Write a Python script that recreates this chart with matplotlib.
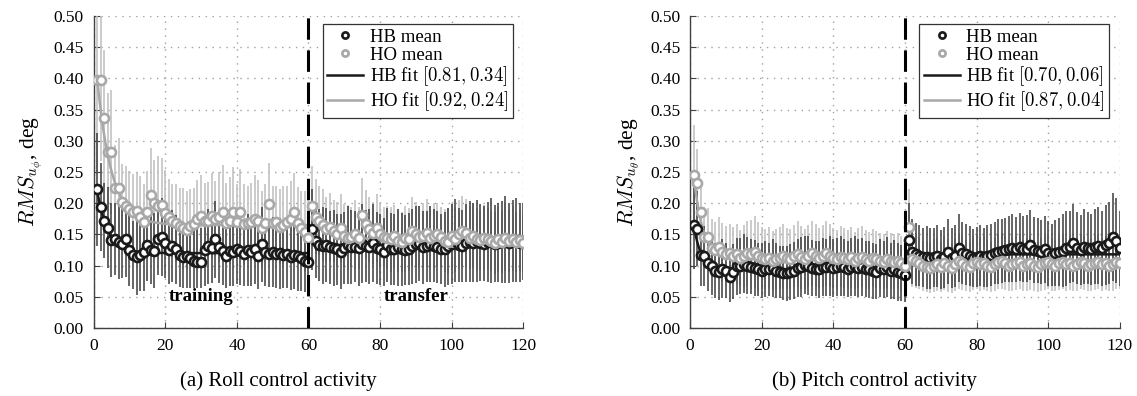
import numpy as np
import matplotlib
matplotlib.use("Agg")
import matplotlib.pyplot as plt
from matplotlib.lines import Line2D

plt.rcParams['font.family'] = ['Liberation Serif', 'DejaVu Serif']
plt.rcParams['mathtext.fontset'] = 'cm'

trials = np.arange(1, 121)

# ---- roll (a) ----
roll_hb_mean = [
    0.222, 0.194, 0.172, 0.161, 0.141, 0.143, 0.138, 0.135, 0.143, 0.125,
    0.117, 0.113, 0.117, 0.121, 0.133, 0.125, 0.124, 0.143, 0.146, 0.136,
    0.125, 0.131, 0.126, 0.117, 0.113, 0.115, 0.112, 0.108, 0.106, 0.105,
    0.125, 0.131, 0.128, 0.142, 0.130, 0.124, 0.115, 0.124, 0.122, 0.127,
    0.124, 0.119, 0.125, 0.122, 0.127, 0.115, 0.134, 0.122, 0.118, 0.122,
    0.118, 0.120, 0.117, 0.119, 0.113, 0.117, 0.115, 0.112, 0.108, 0.106,
    0.158, 0.140, 0.133, 0.132, 0.133, 0.129, 0.128, 0.126, 0.122, 0.128,
    0.133, 0.130, 0.130, 0.128, 0.135, 0.131, 0.130, 0.136, 0.128, 0.126,
    0.122, 0.133, 0.127, 0.126, 0.129, 0.126, 0.125, 0.127, 0.131, 0.134,
    0.136, 0.129, 0.131, 0.134, 0.132, 0.130, 0.127, 0.126, 0.131, 0.135,
    0.140, 0.133, 0.131, 0.136, 0.138, 0.137, 0.139, 0.137, 0.135, 0.138,
    0.140, 0.135, 0.137, 0.138, 0.142, 0.136, 0.139, 0.141, 0.137, 0.139]
roll_hb_err = [
    0.090, 0.070, 0.060, 0.065, 0.060, 0.058, 0.060, 0.055, 0.062, 0.058,
    0.055, 0.060, 0.057, 0.062, 0.058, 0.055, 0.060, 0.058, 0.062, 0.056,
    0.054, 0.058, 0.055, 0.052, 0.056, 0.054, 0.050, 0.053, 0.052, 0.055,
    0.058, 0.060, 0.056, 0.062, 0.058, 0.055, 0.052, 0.056, 0.054, 0.057,
    0.055, 0.052, 0.058, 0.054, 0.056, 0.052, 0.060, 0.055, 0.053, 0.056,
    0.054, 0.057, 0.053, 0.055, 0.052, 0.054, 0.056, 0.052, 0.050, 0.052,
    0.065, 0.060, 0.058, 0.062, 0.060, 0.058, 0.061, 0.057, 0.060, 0.058,
    0.062, 0.059, 0.057, 0.060, 0.063, 0.058, 0.060, 0.062, 0.058, 0.057,
    0.055, 0.060, 0.058, 0.057, 0.061, 0.059, 0.056, 0.058, 0.060, 0.062,
    0.060, 0.058, 0.057, 0.061, 0.059, 0.058, 0.056, 0.060, 0.062, 0.064,
    0.066, 0.060, 0.058, 0.062, 0.065, 0.063, 0.066, 0.062, 0.060, 0.064,
    0.068, 0.062, 0.064, 0.066, 0.070, 0.064, 0.066, 0.068, 0.064, 0.062]
roll_ho_mean = [
    0.397, 0.397, 0.336, 0.282, 0.282, 0.224, 0.224, 0.202, 0.195, 0.190,
    0.186, 0.188, 0.178, 0.170, 0.186, 0.213, 0.200, 0.195, 0.197, 0.185,
    0.178, 0.172, 0.168, 0.164, 0.160, 0.157, 0.163, 0.166, 0.175, 0.180,
    0.172, 0.172, 0.180, 0.175, 0.178, 0.186, 0.168, 0.172, 0.186, 0.170,
    0.186, 0.166, 0.168, 0.170, 0.175, 0.172, 0.160, 0.168, 0.199, 0.168,
    0.170, 0.162, 0.165, 0.170, 0.175, 0.186, 0.168, 0.160, 0.154, 0.145,
    0.195, 0.178, 0.172, 0.165, 0.158, 0.162, 0.155, 0.150, 0.160, 0.148,
    0.145, 0.146, 0.150, 0.144, 0.181, 0.166, 0.158, 0.152, 0.160, 0.150,
    0.146, 0.145, 0.142, 0.148, 0.140, 0.138, 0.144, 0.142, 0.155, 0.150,
    0.146, 0.148, 0.152, 0.145, 0.148, 0.150, 0.146, 0.140, 0.138, 0.147,
    0.142, 0.150, 0.155, 0.152, 0.145, 0.148, 0.142, 0.141, 0.145, 0.143,
    0.140, 0.136, 0.142, 0.138, 0.145, 0.140, 0.143, 0.138, 0.141, 0.137]
roll_ho_err = [
    0.150, 0.130, 0.110, 0.095, 0.100, 0.070, 0.080, 0.060, 0.065, 0.062,
    0.060, 0.062, 0.065, 0.060, 0.065, 0.075, 0.070, 0.080, 0.075, 0.068,
    0.060, 0.058, 0.062, 0.060, 0.065, 0.062, 0.060, 0.058, 0.062, 0.065,
    0.060, 0.062, 0.068, 0.060, 0.072, 0.075, 0.065, 0.070, 0.072, 0.060,
    0.068, 0.065, 0.060, 0.062, 0.070, 0.065, 0.060, 0.062, 0.065, 0.060,
    0.058, 0.060, 0.062, 0.058, 0.060, 0.062, 0.058, 0.060, 0.065, 0.060,
    0.065, 0.060, 0.055, 0.058, 0.052, 0.055, 0.050, 0.052, 0.055, 0.050,
    0.052, 0.048, 0.055, 0.050, 0.060, 0.055, 0.052, 0.050, 0.054, 0.050,
    0.048, 0.050, 0.052, 0.049, 0.050, 0.048, 0.052, 0.050, 0.055, 0.052,
    0.050, 0.052, 0.054, 0.050, 0.052, 0.050, 0.048, 0.050, 0.052, 0.054,
    0.052, 0.055, 0.056, 0.054, 0.050, 0.052, 0.050, 0.048, 0.052, 0.050,
    0.048, 0.050, 0.052, 0.050, 0.054, 0.050, 0.052, 0.048, 0.050, 0.048]

# ---- pitch (b) ----
pitch_hb_mean = [
    0.165, 0.159, 0.117, 0.115, 0.104, 0.099, 0.092, 0.090, 0.095, 0.092,
    0.082, 0.090, 0.099, 0.100, 0.103, 0.100, 0.098, 0.096, 0.094, 0.092,
    0.095, 0.094, 0.096, 0.092, 0.090, 0.088, 0.088, 0.090, 0.092, 0.096,
    0.098, 0.101, 0.100, 0.096, 0.095, 0.094, 0.098, 0.097, 0.099, 0.096,
    0.098, 0.100, 0.097, 0.095, 0.098, 0.099, 0.096, 0.098, 0.095, 0.094,
    0.092, 0.090, 0.096, 0.094, 0.098, 0.092, 0.094, 0.090, 0.088, 0.085,
    0.141, 0.122, 0.118, 0.116, 0.113, 0.113, 0.112, 0.113, 0.115, 0.110,
    0.113, 0.122, 0.112, 0.115, 0.128, 0.120, 0.118, 0.115, 0.112, 0.114,
    0.116, 0.113, 0.115, 0.117, 0.120, 0.122, 0.123, 0.125, 0.126, 0.128,
    0.126, 0.130, 0.126, 0.127, 0.133, 0.125, 0.124, 0.122, 0.126, 0.120,
    0.117, 0.120, 0.122, 0.124, 0.128, 0.130, 0.136, 0.128, 0.125, 0.130,
    0.128, 0.126, 0.130, 0.132, 0.128, 0.133, 0.136, 0.146, 0.140, 0.128]
pitch_hb_err = [
    0.070, 0.060, 0.050, 0.048, 0.045, 0.046, 0.044, 0.045, 0.047, 0.044,
    0.040, 0.044, 0.046, 0.045, 0.047, 0.046, 0.044, 0.045, 0.043, 0.044,
    0.045, 0.043, 0.046, 0.044, 0.042, 0.043, 0.044, 0.045, 0.046, 0.047,
    0.048, 0.046, 0.047, 0.045, 0.044, 0.046, 0.047, 0.045, 0.048, 0.046,
    0.047, 0.048, 0.046, 0.045, 0.047, 0.048, 0.046, 0.047, 0.045, 0.046,
    0.045, 0.044, 0.047, 0.046, 0.048, 0.045, 0.047, 0.046, 0.045, 0.044,
    0.060, 0.052, 0.050, 0.049, 0.048, 0.050, 0.049, 0.048, 0.050, 0.047,
    0.049, 0.052, 0.048, 0.050, 0.055, 0.050, 0.049, 0.048, 0.047, 0.048,
    0.049, 0.048, 0.050, 0.049, 0.050, 0.052, 0.051, 0.052, 0.053, 0.054,
    0.052, 0.055, 0.053, 0.054, 0.056, 0.053, 0.052, 0.051, 0.054, 0.052,
    0.050, 0.053, 0.055, 0.058, 0.060, 0.058, 0.062, 0.058, 0.056, 0.060,
    0.058, 0.057, 0.060, 0.062, 0.060, 0.064, 0.066, 0.070, 0.068, 0.060]
pitch_ho_mean = [
    0.245, 0.232, 0.186, 0.146, 0.146, 0.128, 0.125, 0.130, 0.122, 0.118,
    0.120, 0.116, 0.118, 0.112, 0.115, 0.120, 0.118, 0.122, 0.115, 0.112,
    0.110, 0.112, 0.108, 0.110, 0.112, 0.115, 0.112, 0.110, 0.115, 0.118,
    0.113, 0.110, 0.115, 0.120, 0.116, 0.112, 0.115, 0.120, 0.116, 0.112,
    0.110, 0.114, 0.112, 0.110, 0.113, 0.108, 0.112, 0.114, 0.110, 0.108,
    0.112, 0.110, 0.108, 0.106, 0.110, 0.108, 0.106, 0.108, 0.104, 0.100,
    0.162, 0.111, 0.108, 0.104, 0.100, 0.098, 0.096, 0.100, 0.102, 0.098,
    0.104, 0.100, 0.096, 0.102, 0.108, 0.104, 0.100, 0.098, 0.104, 0.106,
    0.102, 0.104, 0.100, 0.098, 0.102, 0.106, 0.108, 0.104, 0.100, 0.102,
    0.104, 0.106, 0.100, 0.102, 0.104, 0.100, 0.098, 0.102, 0.104, 0.106,
    0.102, 0.100, 0.104, 0.106, 0.102, 0.104, 0.100, 0.102, 0.106, 0.104,
    0.100, 0.102, 0.104, 0.106, 0.102, 0.104, 0.100, 0.102, 0.105, 0.104]
pitch_ho_err = [
    0.080, 0.055, 0.050, 0.048, 0.046, 0.047, 0.045, 0.048, 0.046, 0.045,
    0.047, 0.046, 0.048, 0.045, 0.050, 0.052, 0.055, 0.058, 0.055, 0.050,
    0.048, 0.050, 0.047, 0.049, 0.050, 0.052, 0.049, 0.048, 0.050, 0.053,
    0.050, 0.048, 0.050, 0.052, 0.050, 0.048, 0.050, 0.052, 0.050, 0.048,
    0.047, 0.049, 0.048, 0.047, 0.049, 0.046, 0.048, 0.049, 0.047, 0.046,
    0.047, 0.046, 0.045, 0.044, 0.046, 0.045, 0.044, 0.045, 0.044, 0.042,
    0.060, 0.045, 0.044, 0.042, 0.040, 0.041, 0.040, 0.042, 0.043, 0.041,
    0.043, 0.042, 0.040, 0.042, 0.045, 0.043, 0.041, 0.040, 0.043, 0.044,
    0.042, 0.043, 0.041, 0.040, 0.042, 0.044, 0.045, 0.043, 0.041, 0.042,
    0.043, 0.044, 0.041, 0.042, 0.043, 0.041, 0.040, 0.042, 0.043, 0.044,
    0.042, 0.041, 0.043, 0.044, 0.042, 0.043, 0.041, 0.042, 0.044, 0.043,
    0.041, 0.042, 0.043, 0.044, 0.042, 0.043, 0.041, 0.042, 0.043, 0.042]

# exponential fits y = a + b*exp(-(t - t0)/tau): (a, b, tau) for training / transfer
roll_hb_fit = [(0.120, 0.100, 3.0), (0.133, 0.020, 1.0)]
roll_ho_fit = [(0.165, 0.235, 4.0), (0.142, 0.050, 4.0)]
pitch_hb_fit = [(0.094, 0.072, 2.0), (0.118, 0.025, 1.0)]
pitch_ho_fit = [(0.110, 0.135, 2.5), (0.103, 0.060, 0.8)]

roll_labels = [r"HB fit $[0.81, 0.34]$", r"HO fit $[0.92, 0.24]$"]
pitch_labels = [r"HB fit $[0.70, 0.06]$", r"HO fit $[0.87, 0.04]$"]

HB_C = '#1a1a1a'
HB_ERR = '#3c3c3c'
HO_C = '#a8a8a8'
HO_ERR = '#bdbdbd'


def fit_curve(params):
    xs, ys = [], []
    for (a, b, tau), t0 in zip(params, [1, 61]):
        t = np.linspace(t0, t0 + 59, 200)
        xs.append(t)
        ys.append(a + b * np.exp(-(t - t0) / tau))
    return xs, ys


def panel(ax, hb_m, hb_e, ho_m, ho_e, hb_fit, ho_fit, labels, ylabel, notes):
    ax.vlines(trials, np.array(ho_m) - ho_e, np.array(ho_m) + ho_e,
              color=HO_ERR, lw=1.1, zorder=2)
    ax.vlines(trials, np.array(hb_m) - hb_e, np.array(hb_m) + hb_e,
              color=HB_ERR, lw=1.1, zorder=3)
    for params, c, z in [(hb_fit, HB_C, 4), (ho_fit, HO_C, 4)]:
        xs, ys = fit_curve(params)
        for x, y in zip(xs, ys):
            ax.plot(x, y, color=c, lw=1.8, zorder=z)
    ax.plot(trials, hb_m, 'o', ms=6.5, mfc='white', mec=HB_C, mew=1.9, zorder=5)
    ax.plot(trials, ho_m, 'o', ms=6.5, mfc='white', mec=HO_C, mew=1.9, zorder=6)
    ax.axvline(60, color='black', lw=2.2, ls=(0, (7, 3.5)), zorder=7)

    ax.set_xlim(0, 120)
    ax.set_ylim(0, 0.5)
    ax.set_xticks(range(0, 121, 20))
    ax.set_yticks(np.arange(0, 0.501, 0.05))
    ax.yaxis.set_major_formatter(matplotlib.ticker.FormatStrFormatter('%.2f'))
    ax.grid(True, color='#a0a0a0', ls=(0, (1, 4)), lw=1.0)
    ax.set_axisbelow(True)
    for s in ['top', 'right']:
        ax.spines[s].set_visible(False)
    for s in ['left', 'bottom']:
        ax.spines[s].set_color('#404040')
        ax.spines[s].set_linewidth(1.0)
    ax.tick_params(direction='in', length=4, labelsize=12.5, color='#404040', pad=7)
    ax.set_ylabel(ylabel, fontsize=15.5, labelpad=6)

    for x, txt in notes:
        ax.text(x, 0.05, txt, ha='center', va='center', fontsize=13.5,
                fontweight='bold', zorder=8,
                bbox=dict(fc='white', ec='none', pad=0.5))

    handles = [
        Line2D([], [], ls='none', marker='o', ms=4.5, mfc='white', mec=HB_C, mew=1.9),
        Line2D([], [], ls='none', marker='o', ms=4.5, mfc='white', mec=HO_C, mew=1.9),
        Line2D([], [], color=HB_C, lw=1.8),
        Line2D([], [], color=HO_C, lw=1.8),
    ]
    leg = ax.legend(handles, ["HB mean", "HO mean"] + labels,
                    loc='upper right', bbox_to_anchor=(0.975, 0.975),
                    fontsize=13.5, frameon=True, fancybox=False, framealpha=1,
                    edgecolor='#333333', handlelength=1.9, handletextpad=0.35,
                    borderpad=0.25, labelspacing=0.05, borderaxespad=0)
    leg.get_frame().set_linewidth(0.9)
    leg.set_zorder(10)


fig = plt.figure(figsize=(11.37, 3.96), dpi=100)
ax1 = fig.add_axes([0.0823, 0.1717, 0.378, 0.788])
ax2 = fig.add_axes([0.607, 0.1717, 0.378, 0.788])

panel(ax1, roll_hb_mean, roll_hb_err, roll_ho_mean, roll_ho_err,
      roll_hb_fit, roll_ho_fit, roll_labels, r"$RMS_{u_\phi}$, deg",
      [(30, "training"), (90, "transfer")])
panel(ax2, pitch_hb_mean, pitch_hb_err, pitch_ho_mean, pitch_ho_err,
      pitch_hb_fit, pitch_ho_fit, pitch_labels, r"$RMS_{u_\theta}$, deg", [])

fig.text(278 / 1137, 1 - 381 / 396, "(a) Roll control activity",
         ha='center', va='center', fontsize=15)
fig.text(874 / 1137, 1 - 381 / 396, "(b) Pitch control activity",
         ha='center', va='center', fontsize=15)

fig.savefig("out.png", dpi=100)
